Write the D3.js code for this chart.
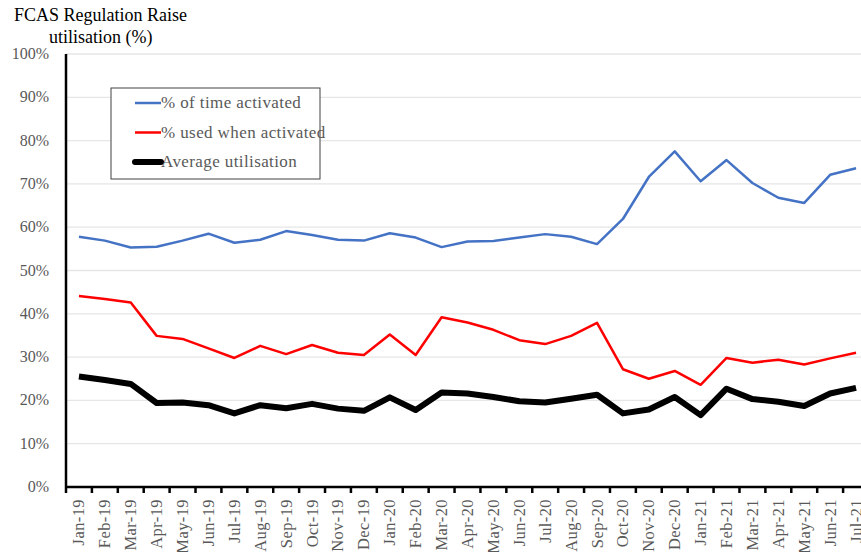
<!DOCTYPE html>
<html>
<head>
<meta charset="utf-8">
<script src="https://cdn.jsdelivr.net/npm/d3@7"></script>
<style>
  body { margin: 0; background: #fff; }
  svg, svg text { font-family: "Liberation Serif", "Times New Roman", serif; }
</style>
</head>
<body>
<div id="chart"></div>
<script>
var months = ["Jan-19","Feb-19","Mar-19","Apr-19","May-19","Jun-19","Jul-19","Aug-19","Sep-19","Oct-19","Nov-19","Dec-19",
              "Jan-20","Feb-20","Mar-20","Apr-20","May-20","Jun-20","Jul-20","Aug-20","Sep-20","Oct-20","Nov-20","Dec-20",
              "Jan-21","Feb-21","Mar-21","Apr-21","May-21","Jun-21","Jul-21"];

var timeActivated = [57.8,56.9,55.3,55.5,56.9,58.5,56.4,57.1,59.1,58.2,57.1,56.9,
                     58.6,57.6,55.4,56.7,56.8,57.6,58.4,57.8,56.1,61.9,71.6,77.5,
                     70.6,75.5,70.2,66.8,65.6,72.1,73.6];

var usedWhenActivated = [44.1,43.4,42.6,34.9,34.2,32.0,29.8,32.6,30.7,32.8,31.0,30.5,
                         35.2,30.5,39.2,38.0,36.3,33.9,33.0,34.9,37.9,27.2,25.0,26.8,
                         23.6,29.8,28.7,29.4,28.3,29.7,31.0];

var avgUtilisation = [25.5,24.7,23.8,19.4,19.5,18.9,17.0,18.9,18.2,19.2,18.1,17.6,
                      20.7,17.8,21.8,21.6,20.8,19.8,19.5,20.4,21.3,17.0,17.9,20.8,
                      16.6,22.7,20.3,19.7,18.7,21.6,22.9];

var yTicks = [0,10,20,30,40,50,60,70,80,90,100];

var series = [
    {name:"% of time activated", values:timeActivated, color:"#4472C4", width:2.5},
    {name:"% used when activated", values:usedWhenActivated, color:"#FF0000", width:2.5},
    {name:"Average utilisation", values:avgUtilisation, color:"#000000", width:6}
];

var W = 861, H = 552;
var margin = {top:54, left:66, bottom:65};
var plotW = 803, plotH = H - margin.top - margin.bottom;

var svg = d3.select("#chart").append("svg")
    .attr("width", W)
    .attr("height", H);

var x = d3.scaleBand().domain(months).range([margin.left, margin.left + plotW]);
var y = d3.scaleLinear().domain([0,100]).range([margin.top + plotH, margin.top]);

// gridlines
svg.append("g")
    .selectAll("line")
    .data(yTicks.filter(function(d){ return d > 0; }))
    .enter().append("line")
    .attr("x1", margin.left)
    .attr("x2", margin.left + plotW)
    .attr("y1", function(d){ return y(d); })
    .attr("y2", function(d){ return y(d); })
    .style("stroke", "#e6e6e6")
    .style("stroke-width", 1.3);

// y labels
svg.append("g")
    .selectAll("text")
    .data(yTicks)
    .enter().append("text")
    .attr("x", 49)
    .attr("y", function(d){ return y(d) + 5; })
    .attr("text-anchor", "end")
    .style("font-size", "16px")
    .style("fill", "#595959")
    .text(function(d){ return d + "%"; });

// lines
var line = d3.line()
    .x(function(d, i){ return x(months[i]) + x.bandwidth()/2; })
    .y(function(d){ return y(d); });

svg.append("g")
    .selectAll("path")
    .data(series)
    .enter().append("path")
    .attr("d", function(d){ return line(d.values); })
    .style("fill", "none")
    .style("stroke", function(d){ return d.color; })
    .style("stroke-width", function(d){ return d.width; })
    .style("stroke-linejoin", "round");

// axes
var xAxis = d3.axisBottom(x).tickSize(0).tickFormat("");
var gx = svg.append("g")
    .attr("transform", "translate(0," + (margin.top + plotH) + ")")
    .call(xAxis)
    .attr("font-family", null)
    .attr("font-size", null);
gx.select(".domain").remove();
gx.append("line")
    .attr("x1", margin.left - 1).attr("x2", margin.left + plotW)
    .style("stroke", "#000").style("stroke-width", 2.5);
gx.selectAll(".tickmark")
    .data(months.concat(["end"]))
    .enter().append("line")
    .attr("class", "tickmark")
    .attr("x1", function(d, i){ return margin.left + i * x.step(); })
    .attr("x2", function(d, i){ return margin.left + i * x.step(); })
    .attr("y1", 0).attr("y2", 6)
    .style("stroke", "#000").style("stroke-width", 2.5);

gx.selectAll(".lbl")
    .data(months)
    .enter().append("text")
    .attr("class", "lbl")
    .attr("transform", function(d){
        return "translate(" + (x(d) + x.bandwidth()/2 + 5.5) + ",12) rotate(-90)";
    })
    .attr("text-anchor", "end")
    .style("font-size", "16.5px")
    .style("letter-spacing", "0.4px")
    .style("fill", "#595959")
    .text(function(d){ return d; });

svg.append("line")
    .attr("x1", margin.left).attr("x2", margin.left)
    .attr("y1", margin.top).attr("y2", margin.top + plotH)
    .style("stroke", "#000").style("stroke-width", 2.5);

// title
svg.append("text").attr("x", 14).attr("y", 21)
    .style("font-size", "18px").style("fill", "#000")
    .text("FCAS Regulation Raise");
svg.append("text").attr("x", 49).attr("y", 43)
    .style("font-size", "18px").style("fill", "#000")
    .text("utilisation (%)");

// legend
var legend = svg.append("g").attr("transform", "translate(111,88)");
legend.append("rect")
    .attr("width", 209).attr("height", 91)
    .style("fill", "#fff").style("stroke", "#404040").style("stroke-width", 1);
var items = legend.selectAll(".item")
    .data(series)
    .enter().append("g")
    .attr("class", "item")
    .attr("transform", function(d, i){ return "translate(0," + (15 + i * 29.5) + ")"; });
items.append("line")
    .attr("x1", 24).attr("x2", 50)
    .style("stroke", function(d){ return d.color; })
    .style("stroke-width", function(d){ return d.width; })
    .style("stroke-linecap", function(d){ return d.width > 3 ? "round" : "butt"; });
items.append("text")
    .attr("x", 50).attr("y", 5)
    .style("font-size", "17px")
    .style("letter-spacing", "0.4px")
    .style("fill", "#595959")
    .text(function(d){ return d.name; });
</script>
</body>
</html>
